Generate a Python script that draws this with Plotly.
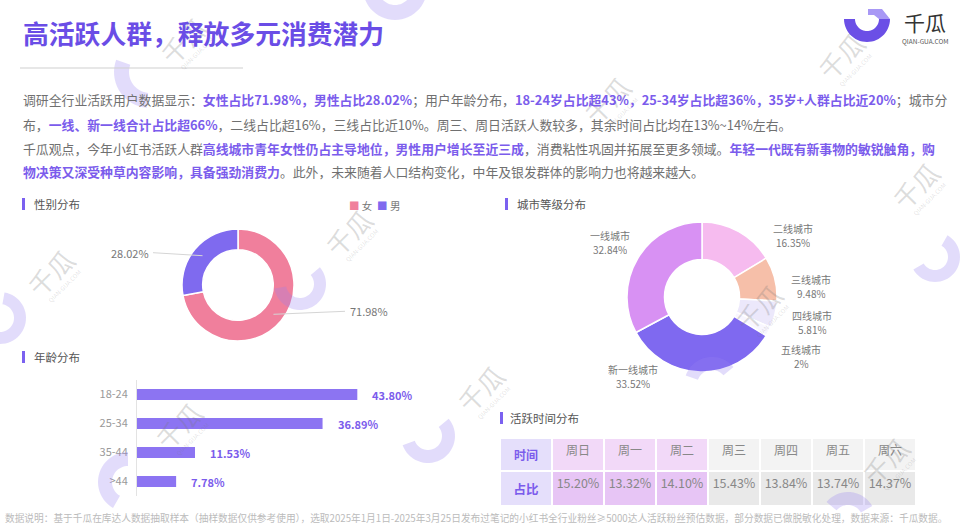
import math
import plotly.graph_objects as go

W, H = 960, 531


def fx(x):
    return x / W


def fy(y):
    return 1 - y / H


FONT = "Noto Sans CJK SC, Noto Sans, sans-serif"
PURPLE = "#7B5CEC"
GRAY = "#777777"

# ---------------- data ----------------
title_text = "高活跃人群，释放多元消费潜力"

gender_labels = ["女", "男"]
gender_values = [71.98, 28.02]
gender_colors = ["#F07F9C", "#7F6AEF"]

city_labels = ["二线城市", "三线城市", "四线城市", "五线城市", "新一线城市", "一线城市"]
city_values = [16.35, 9.48, 5.81, 2.00, 33.52, 32.84]
city_colors = ["#F6BBEF", "#F6BFA9", "#ECE8FB", "#F8F6FF", "#7F69F0", "#D891F3"]

age_labels = ["18-24", "25-34", "35-44", ">44"]
age_values = [43.80, 36.89, 11.53, 7.78]

day_labels = ["周日", "周一", "周二", "周三", "周四", "周五", "周六"]
day_values = [15.20, 13.32, 14.10, 15.43, 13.84, 13.74, 14.37]

para_lines = [
    [("调研全行业活跃用户数据显示：", 0), ("女性占比71.98%，男性占比28.02%", 1), ("；用户年龄分布，", 0),
     ("18-24岁占比超43%，25-34岁占比超36%，35岁+人群占比近20%", 1), ("；城市分", 0)],
    [("布，", 0), ("一线、新一线合计占比超66%", 1),
     ("，二线占比超16%，三线占比近10%。周三、周日活跃人数较多，其余时间占比均在13%~14%左右。", 0)],
    [("千瓜观点，今年小红书活跃人群", 0), ("高线城市青年女性仍占主导地位，男性用户增长至近三成", 1),
     ("，消费粘性巩固并拓展至更多领域。", 0), ("年轻一代既有新事物的敏锐触角，购", 1)],
    [("物决策又深受种草内容影响，具备强劲消费力", 1), ("。此外，未来随着人口结构变化，中年及银发群体的影响力也将越来越大。", 0)],
]

footer_text = ("数据说明：基于千瓜在库达人数据抽取样本（抽样数据仅供参考使用），选取2025年1月1日-2025年3月25日"
               "发布过笔记的小红书全行业粉丝≥5000达人活跃粉丝预估数据，部分数据已做脱敏化处理，数据来源：千瓜数据。")

# label placement for the city donut (pixel centres, same order as city_labels)
city_label_pos = [(793, 235), (811, 286), (812, 322), (801, 356), (633, 376), (610, 242)]

fig = go.Figure()
shapes = []
annos = []


def text(x, y, s, size=12, color=GRAY, anchor="left", angle=0, family=FONT, yanchor="middle", **kw):
    annos.append(dict(x=fx(x), y=fy(y), xref="paper", yref="paper", text=s, showarrow=False,
                      xanchor=anchor, yanchor=yanchor, textangle=angle,
                      font=dict(size=size, color=color, family=family), **kw))


def arc_path(cx, cy, ro, ri, a0, a1, step=6):
    n = max(2, int(abs(a1 - a0) / step) + 1)
    angs = [a0 + (a1 - a0) * i / (n - 1) for i in range(n)]
    outer = [(cx + ro * math.cos(math.radians(a)), cy + ro * math.sin(math.radians(a))) for a in angs]
    inner = [(cx + ri * math.cos(math.radians(a)), cy + ri * math.sin(math.radians(a))) for a in reversed(angs)]
    return "M " + " L ".join(f"{fx(px):.5f},{fy(py):.5f}" for px, py in outer + inner) + " Z"


# ---------------- decorative brand arcs (background) ----------------
deco = [(935, 257, 25, 13, -60, 150), (150, 72, 36, 21, 95, 200), (395, -12, 32, 17, 10, 170),
        (300, 284, 26, 14, -40, 170), (0, 318, 26, 14, -80, 90), (128, 482, 30, 16, 120, 270),
        (428, 436, 27, 14, -40, 160), (712, 385, 28, 15, 200, 320), (848, 520, 28, 15, 220, 330)]
for (cx, cy, ro, ri, a0, a1) in deco:
    shapes.append(dict(type="path", xref="paper", yref="paper", path=arc_path(cx, cy, ro, ri, a0, a1),
                       fillcolor="rgba(150,130,240,0.28)", line=dict(width=0), layer="above"))

# ---------------- watermarks ----------------
wm_pos = [(183, 40), (607, 100), (841, 56), (50, 272), (348, 232), (758, 307), (480, 388), (178, 425), (885, 460),
          (915, 185)]
for (x, y) in wm_pos:
    text(x, y, "千瓜", size=26, color="rgba(120,120,120,0.26)", anchor="center", angle=-45)
    text(x + 14, y + 14, "QIAN-GUA.COM", size=6, color="rgba(120,120,120,0.22)", anchor="center", angle=-45)

# ---------------- title & header ----------------
text(21, 33, "<b>" + title_text + "</b>", size=25.8, color="#6A4DE6")
shapes.append(dict(type="line", xref="paper", yref="paper", x0=fx(20), x1=fx(243), y0=fy(68), y1=fy(68),
                   line=dict(color="#CFCFCF", width=1)))

# logo
shapes.append(dict(type="path", xref="paper", yref="paper", path=arc_path(867, 19, 23, 12, 0, 180),
                   fillcolor="#6B4FE6", line=dict(width=0)))
shapes.append(dict(type="path", xref="paper", yref="paper",
                   path=f"M {fx(868)},{fy(9)} L {fx(882)},{fy(9)} L {fx(890)},{fy(19)} L {fx(879)},{fy(19)} L {fx(874)},{fy(15)} L {fx(868)},{fy(15)} Z",
                   fillcolor="#A898F5", line=dict(width=0)))
text(925, 22, "千瓜", size=21, color="#333333", anchor="center")
text(925, 41, "QIAN-GUA.COM", size=6.5, color="#555555", anchor="center")

# ---------------- paragraph ----------------
line_y = [100, 124, 148, 171]
for segs, y in zip(para_lines, line_y):
    s = "".join(
        (f"<span style='color:{PURPLE}'><b>{t}</b></span>" if hl else f"<span style='color:#707070'>{t}</span>")
        for t, hl in segs)
    text(21, y, s, size=12.85)

# ---------------- section headers ----------------
for (bx, by, tx, label) in [(22, 204, 32, "性别分布"), (505, 204, 515, "城市等级分布"),
                            (22, 357, 32, "年龄分布"), (500, 418, 508, "活跃时间分布")]:
    shapes.append(dict(type="rect", xref="paper", yref="paper", x0=fx(bx), x1=fx(bx + 3), y0=fy(by + 6),
                       y1=fy(by - 6), fillcolor="#7B61F0", line=dict(width=0)))
    text(tx, by, label, size=11.5, color="#555555")

# ---------------- gender donut ----------------
gcx, gcy, gr = 238, 285, 56
fig.add_trace(go.Pie(labels=gender_labels, values=gender_values, hole=0.63, sort=False, direction="clockwise",
                     rotation=0, marker=dict(colors=gender_colors, line=dict(color="white", width=1.5)),
                     textinfo="none", hoverinfo="label+percent",
                     domain=dict(x=[fx(gcx - gr), fx(gcx + gr)], y=[fy(gcy + gr), fy(gcy - gr)]),
                     showlegend=False))
cum = 0
for lab, v in zip(gender_labels, gender_values):
    mid = math.radians((cum + v / 2) / 100 * 360)
    cum += v
    ax, ay = gcx + 46 * math.sin(mid), gcy - 46 * math.cos(mid)
    if math.sin(mid) < 0:
        lx = gcx - 87
        shapes.append(dict(type="line", xref="paper", yref="paper", x0=fx(ax), y0=fy(ay), x1=fx(lx + 2),
                           y1=fy(ay - 3), line=dict(color="#D5D5D5", width=1)))
        text(lx, ay - 3, f"{v:.2f}%", size=11, color=GRAY, anchor="right")
    else:
        lx = gcx + 110
        shapes.append(dict(type="line", xref="paper", yref="paper", x0=fx(ax), y0=fy(ay), x1=fx(lx - 3),
                           y1=fy(ay - 3), line=dict(color="#D5D5D5", width=1)))
        text(lx, ay - 3, f"{v:.2f}%", size=11, color=GRAY, anchor="left")

# gender legend (compact, like the original)
leg = "&nbsp;&nbsp;".join(f"<span style='color:{c}'>■</span>&nbsp;<span style='color:#777'>{l}</span>"
                          for l, c in zip(gender_labels, gender_colors))
text(347, 205, leg, size=10.5, color=GRAY)

# ---------------- city donut ----------------
ccx, ccy, cr = 702, 297, 75
fig.add_trace(go.Pie(labels=city_labels, values=city_values, hole=0.5, sort=False, direction="clockwise",
                     rotation=0, marker=dict(colors=city_colors, line=dict(color="white", width=1.5)),
                     textinfo="none", hoverinfo="label+percent",
                     domain=dict(x=[fx(ccx - cr), fx(ccx + cr)], y=[fy(ccy + cr), fy(ccy - cr)]),
                     showlegend=False))
for lab, v, (lx, ly) in zip(city_labels, city_values, city_label_pos):
    text(lx, ly, lab, size=10, color=GRAY, anchor="center", yanchor="bottom", height=12, borderpad=0)
    text(lx, ly, f"{v:g}%", size=10, color=GRAY, anchor="center", yanchor="top", height=12, borderpad=0)

# ---------------- age bars ----------------
x0, scale = 137, 5.03
fig.add_trace(go.Bar(x=age_values, y=age_labels, orientation="h", marker=dict(color="#8C74F2", line=dict(width=0)),
                     xaxis="x", yaxis="y", showlegend=False, hoverinfo="x+y"))
for lab, v in zip(age_labels, age_values):
    annos.append(dict(x=v, y=lab, xref="x", yref="y", text=f"<b>{v:.2f}%</b>", showarrow=False, xanchor="left",
                      xshift=13, font=dict(size=11, color=PURPLE, family=FONT)))

# ---------------- time table ----------------
hdr_fill = ["#E5DFFB"] + ["#F2D9F8"] * 3 + ["#F3F3F3"] * 4
cell_fill = ["#E5DFFB"] + ["#E7C5F5"] * 3 + ["#E9E9E9"] * 4
font_col = [PURPLE] + ["#888888"] * 7
fig.add_trace(go.Table(
    domain=dict(x=[fx(500), fx(916)], y=[0, fy(438)]),
    columnwidth=[1] * 8,
    header=dict(values=["<b>时间</b>"] + day_labels, fill_color=hdr_fill, height=27, align="center",
                line=dict(color="white", width=1.5), font=dict(size=12, color=font_col, family=FONT)),
    cells=dict(values=[["<b>占比</b>"]] + [[f"{v:.2f}%"] for v in day_values], fill_color=cell_fill, height=31,
               align="center", line=dict(color="white", width=1.5),
               font=dict(size=12.5, color=font_col, family=FONT)),
))

# ---------------- footer ----------------
text(3, 518, footer_text, size=9.7, color="#BBBBBB")

fig.update_layout(
    width=W, height=H, margin=dict(l=0, r=0, t=0, b=0),
    paper_bgcolor="white", plot_bgcolor="rgba(0,0,0,0)",
    font=dict(family=FONT, color=GRAY),
    xaxis=dict(domain=[fx(x0), fx(x0 + scale * 50)], range=[0, 50], showgrid=False, zeroline=False,
               showticklabels=False, fixedrange=True),
    yaxis=dict(domain=[fy(496), fy(380)], autorange="reversed", showgrid=False, zeroline=False,
               showline=True, linecolor="#E3E3E3", linewidth=1, ticks="", ticklabelstandoff=6,
               tickfont=dict(size=11, color="#999999", family=FONT), fixedrange=True),
    bargap=0.62,
    showlegend=False,
    shapes=shapes, annotations=annos,
)

fig.write_html("out.html", config={"displayModeBar": False},
               post_script="document.body.style.margin='0';document.body.style.overflow='hidden';")
